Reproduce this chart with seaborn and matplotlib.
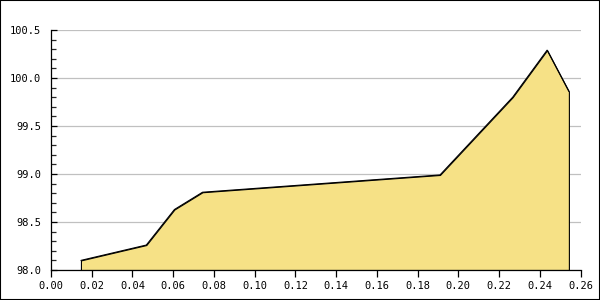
import matplotlib
matplotlib.use("Agg")
import matplotlib.pyplot as plt
import seaborn as sns
import pandas as pd
from matplotlib.ticker import MultipleLocator, FormatStrFormatter
from matplotlib.patches import Rectangle

x_vals = [0.0147, 0.0468, 0.0606, 0.0744, 0.1910, 0.2267, 0.2436, 0.2543]
y_vals = [98.10, 98.26, 98.63, 98.81, 98.99, 99.80, 100.29, 99.86]
x_ticks = [0.00, 0.02, 0.04, 0.06, 0.08, 0.10, 0.12, 0.14, 0.16, 0.18, 0.20, 0.22, 0.24, 0.26]
y_ticks = [98.0, 98.5, 99.0, 99.5, 100.0, 100.5]

sns.set_style("white")
plt.rcParams['font.family'] = ['DejaVu Sans Mono']

df = pd.DataFrame({"x": x_vals, "y": y_vals})

fig = plt.figure(figsize=(6, 3), dpi=100)
ax = fig.add_axes([51/600, 30/300, (580.5-51)/600, 240/300])

ax.set_xlim(0, 0.26)
ax.set_ylim(98.0, 100.5)

for yv in y_ticks:
    ax.axhline(yv, color="#C0C0C0", lw=0.9, zorder=0)

ax.fill_between(df["x"], df["y"], 98.0, facecolor="#F6E186", edgecolor="black", lw=0.8, zorder=2)
sns.lineplot(data=df, x="x", y="y", ax=ax, color="black", lw=0.8, zorder=3)

ax.set_xticks(x_ticks)
ax.set_yticks(y_ticks)
ax.xaxis.set_major_formatter(FormatStrFormatter('%.2f'))
ax.yaxis.set_major_formatter(FormatStrFormatter('%.1f'))
ax.yaxis.set_minor_locator(MultipleLocator(0.1))
ax.tick_params(axis='x', direction='out', length=5, width=0.9, pad=3, labelsize=7.5, colors='black', bottom=True)
ax.tick_params(axis='y', which='major', direction='in', length=4, width=0.9, pad=7, labelsize=7.5, colors='black', left=True)
ax.tick_params(axis='y', which='minor', direction='in', length=3.5, width=0.9, left=True)
ax.set_xlabel("")
ax.set_ylabel("")
ax.grid(False)

for s in ["top", "right"]:
    ax.spines[s].set_visible(False)
for s in ["left", "bottom"]:
    ax.spines[s].set_color("black")
    ax.spines[s].set_linewidth(0.9)

fig.patches.append(Rectangle((0, 0), 1, 1, transform=fig.transFigure, fill=False,
                             edgecolor="black", lw=1.5, zorder=10))

fig.savefig("out.png", dpi=100)
